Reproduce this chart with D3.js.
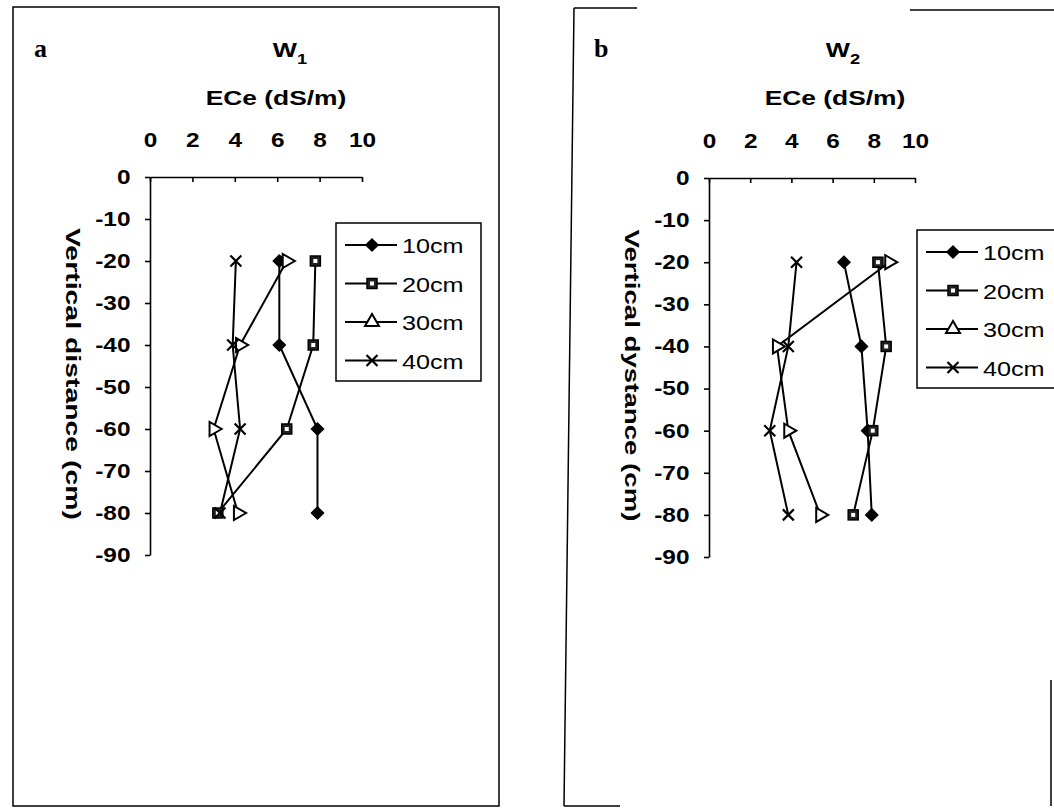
<!DOCTYPE html>
<html>
<head>
<meta charset="utf-8">
<script src="https://cdn.jsdelivr.net/npm/d3@7"></script>
<style>
  body { margin: 0; background: #fff; }
  text { font-family: "Liberation Sans", Arial, sans-serif; fill: #000; }
</style>
</head>
<body>
<script>
// depth of each reading (cm)
const depths = [-20, -40, -60, -80];
const seriesNames = ['10cm', '20cm', '30cm', '40cm'];
const xTicks = [0, 2, 4, 6, 8, 10];
const yTicks = [0, -10, -20, -30, -40, -50, -60, -70, -80, -90];

// W1 ECe (dS/m) by depth
const w1_10 = [6.1, 6.1, 7.9, 7.9];
const w1_20 = [7.8, 7.7, 6.45, 3.2];
const w1_30 = [6.45, 4.25, 3.0, 4.15];
const w1_40 = [4.05, 3.9, 4.25, 3.3];

// W2 ECe (dS/m) by depth
const w2_10 = [6.55, 7.4, 7.7, 7.9];
const w2_20 = [8.2, 8.6, 7.95, 7.0];
const w2_30 = [8.75, 3.3, 3.85, 5.4];
const w2_40 = [4.25, 3.85, 2.95, 3.85];

const W = 1054, H = 809;
const SX = 1.22; // the scanned lettering is wide

const svg = d3.select('body').append('svg')
  .attr('width', W)
  .attr('height', H);

// frames of the two scanned panels
svg.append('rect').attr('x', 13).attr('y', 7).attr('width', 486).attr('height', 799)
  .attr('fill', 'none').attr('stroke', '#000').attr('stroke-width', 1.5);
const fb = svg.append('g').attr('stroke', '#000').attr('stroke-width', 1.5).attr('fill', 'none');
fb.append('line').attr('x1', 574).attr('y1', 8).attr('x2', 564).attr('y2', 806);
fb.append('line').attr('x1', 574).attr('y1', 8).attr('x2', 637).attr('y2', 8);
fb.append('line').attr('x1', 910).attr('y1', 10).attr('x2', 1054).attr('y2', 10);
fb.append('line').attr('x1', 564).attr('y1', 806).attr('x2', 620).attr('y2', 806);
fb.append('line').attr('x1', 1051).attr('y1', 680).attr('x2', 1051).attr('y2', 806);

function label(g, x, y, s, size, opts = {}) {
  const t = g.append('text')
    .attr('transform', `translate(${x},${y}) rotate(${opts.rot || 0}) scale(${opts.sx || SX},1)`)
    .attr('font-size', size)
    .attr('font-weight', opts.weight || 'bold')
    .attr('text-anchor', opts.anchor || 'middle')
    .text(s);
  if (opts.family) t.style('font-family', opts.family);
  return t;
}

function xMark(size) {
  const r = size / 2;
  return `M${-r},${-r}L${r},${r}M${-r},${r}L${r},${-r}`;
}

function drawMarker(g, kind, cx, cy, legend) {
  if (kind === 0) {
    g.append('rect').attr('x', -5).attr('y', -5).attr('width', 10).attr('height', 10)
      .attr('transform', `translate(${cx},${cy}) rotate(45)`).attr('fill', '#000');
  } else if (kind === 1) {
    g.append('rect').attr('x', cx - 5).attr('y', cy - 5).attr('width', 10).attr('height', 10)
      .attr('fill', '#222').attr('stroke', '#000').attr('stroke-width', 1.5);
    g.append('rect').attr('x', cx - 2).attr('y', cy - 2).attr('width', 4).attr('height', 4)
      .attr('fill', '#fff');
  } else if (kind === 2) {
    g.append('path').attr('d', d3.symbol(d3.symbolTriangle, 85)())
      .attr('transform', `translate(${cx},${cy}) rotate(${legend ? 0 : 90})`)
      .attr('fill', '#fff').attr('stroke', '#000').attr('stroke-width', 2);
  } else {
    g.append('path').attr('d', xMark(11))
      .attr('transform', `translate(${cx},${cy})`)
      .attr('stroke', '#000').attr('stroke-width', 2.2);
  }
}

const panels = [
  { tag: 'a', sub: '1', ytitle: 'Vertical distance (cm)', x0: 150, x1: 362, y0: 177, y1: 555,
    series: [w1_10, w1_20, w1_30, w1_40], lx: 336, ly: 223, lw: 145, lh: 158, tagX: 34, wdx: 140 },
  { tag: 'b', sub: '2', ytitle: 'Vertical dystance (cm)', x0: 709, x1: 915, y0: 178, y1: 557,
    series: [w2_10, w2_20, w2_30, w2_40], lx: 917, ly: 230, lw: 160, lh: 158, tagX: 594, wdx: 134 }
];

panels.forEach(p => {
  const g = svg.append('g');
  const x = d3.scaleLinear().domain([0, 10]).range([p.x0, p.x1]);
  const y = d3.scaleLinear().domain([0, -90]).range([p.y0, p.y1]);

  // panel letter and titles
  label(g, p.tagX, 57, p.tag, 26, { anchor: 'start', sx: 1, family: '"Liberation Serif", serif' });
  const tt = label(g, p.x0 + p.wdx, 57, 'W', 21);
  tt.append('tspan').attr('font-size', 15).attr('dy', 7).text(p.sub);
  label(g, p.x0 + 126, 105, 'ECe (dS/m)', 20, { sx: 1.32 });

  // axes
  const xa = g.append('g').attr('transform', `translate(0,${p.y0})`)
    .call(d3.axisTop(x).tickValues(xTicks).tickSizeInner(-5).tickSizeOuter(0).tickPadding(30));
  const ya = g.append('g').attr('transform', `translate(${p.x0},0)`)
    .call(d3.axisLeft(y).tickValues(yTicks).tickFormat(d => String(d))
      .tickSize(5).tickSizeOuter(0).tickPadding(11));
  [xa, ya].forEach(a => {
    a.attr('font-family', null);
    a.select('.domain').attr('stroke', '#000').attr('stroke-width', 1.6);
    a.selectAll('.tick line').attr('stroke', '#000').attr('stroke-width', 1.6);
    a.selectAll('text').attr('font-size', 20).attr('font-weight', 'bold')
      .attr('fill', '#000').attr('transform', `scale(${SX},1)`)
      .style('font-family', '"Liberation Sans", Arial, sans-serif');
  });

  // y title, reading downwards
  const yt = label(g, p.x0 - 84, (p.y0 + p.y1) / 2 + 8, p.ytitle, 21, { rot: 90, sx: 1 });
  yt.attr('textLength', 292).attr('lengthAdjust', 'spacingAndGlyphs');

  // series
  const line = d3.line().x(d => x(d[0])).y(d => y(d[1]));
  p.series.forEach(vals => {
    const pts = vals.map((v, j) => [v, depths[j]]);
    g.append('path').datum(pts).attr('d', line)
      .attr('fill', 'none').attr('stroke', '#000').attr('stroke-width', 2);
  });
  p.series.forEach((vals, i) => {
    vals.forEach((v, j) => drawMarker(g, i, x(v), y(depths[j]), false));
  });

  // legend
  const lg = g.append('g');
  lg.append('rect').attr('x', p.lx).attr('y', p.ly).attr('width', p.lw).attr('height', p.lh)
    .attr('fill', '#fff').attr('stroke', '#000').attr('stroke-width', 1.5);
  seriesNames.forEach((name, i) => {
    const cy = p.ly + 22 + i * 38.5;
    lg.append('line').attr('x1', p.lx + 9).attr('x2', p.lx + 61).attr('y1', cy).attr('y2', cy)
      .attr('stroke', '#000').attr('stroke-width', 2);
    drawMarker(lg, i, p.lx + 36, cy, true);
    label(lg, p.lx + 66, cy + 8, name, 21, { anchor: 'start', weight: 'normal', sx: 1.2 });
  });
});
</script>
</body>
</html>
